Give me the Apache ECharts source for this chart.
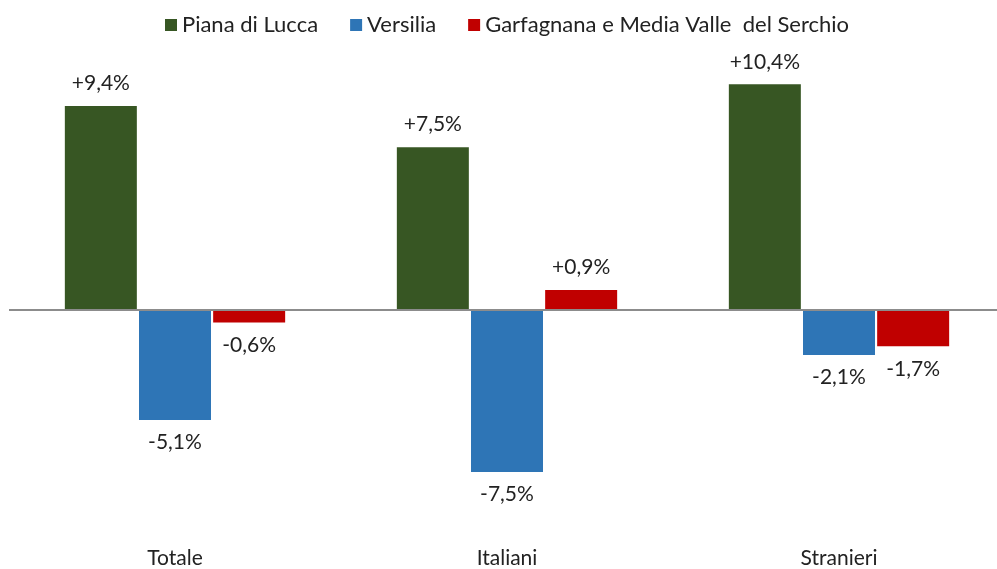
<!DOCTYPE html>
<html>
<head>
<meta charset="utf-8">
<script src="https://cdn.jsdelivr.net/npm/echarts@6/dist/echarts.min.js"></script>
<style>
  html, body { margin: 0; padding: 0; background: #fff; overflow: hidden; }
  #chart { width: 1005px; height: 569px; }
</style>
</head>
<body>
<div id="chart"></div>
<script>
const categories = ['Totale', 'Italiani', 'Stranieri']
const seriesNames = ['Piana di Lucca', 'Versilia', 'Garfagnana e Media Valle  del Serchio']
const pianaDiLucca = [9.4, 7.5, 10.4]
const versilia = [-5.1, -7.5, -2.1]
const garfagnana = [-0.6, 0.9, -1.7]
const colors = ['#375623', '#2E75B6', '#C00000']

const font = 'Lato, "Noto Sans", sans-serif'

// +9,4% style labels
function fmt (v) {
  const s = Math.abs(v).toFixed(1).replace('.', ',')
  return (v >= 0 ? '+' : '-') + s + '%'
}

function makeSeries (name, data, color, idx) {
  return {
    name: name,
    type: 'bar',
    barWidth: 72,
    barGap: '3%',
    clip: false,
    itemStyle: { color: color },
    label: {
      show: true,
      fontFamily: font,
      fontSize: 21,
      color: '#222',
      distance: 12,
      formatter: p => fmt(p.value)
    },
    data: data.map(v => ({
      value: v,
      label: { position: v >= 0 ? 'top' : 'bottom' }
    })),
    markLine: idx === 0 ? {
      silent: true,
      symbol: 'none',
      label: { show: false },
      lineStyle: { color: '#8c8c8c', width: 2, type: 'solid' },
      data: [{ yAxis: 0 }]
    } : undefined
  }
}

const chart = echarts.init(document.getElementById('chart'))
chart.setOption({
  backgroundColor: '#fff',
  animation: false,
  legend: {
    top: 9,
    left: 160,
    itemWidth: 12,
    itemHeight: 12,
    itemGap: 32,
    icon: 'rect',
    textStyle: { fontFamily: font, fontSize: 22, color: '#222' },
    data: seriesNames
  },
  grid: {
    left: 9,
    right: 0,
    top: 93,
    bottom: 40
  },
  xAxis: {
    type: 'category',
    data: categories,
    axisLine: { show: false },
    axisTick: { show: false },
    axisLabel: {
      fontFamily: font,
      fontSize: 21,
      color: '#222',
      margin: 22
    }
  },
  yAxis: {
    type: 'value',
    min: -10,
    max: 10,
    show: false,
    splitLine: { show: false }
  },
  series: [
    makeSeries(seriesNames[0], pianaDiLucca, colors[0], 0),
    makeSeries(seriesNames[1], versilia, colors[1], 1),
    makeSeries(seriesNames[2], garfagnana, colors[2], 2)
  ]
})
</script>
</body>
</html>
